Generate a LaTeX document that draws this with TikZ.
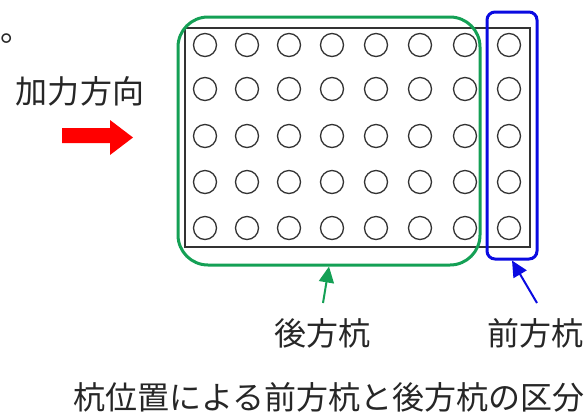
\documentclass[tikz,border=0pt]{standalone}
\usepackage{xcolor}
\usepackage{fontspec}
\setmainfont{Noto Sans CJK JP}
\usepackage{tikz}
\usetikzlibrary{calc,arrows.meta}
\definecolor{pilegreen}{RGB}{20,160,85}
\definecolor{pileblue}{RGB}{10,10,225}

\begin{document}
\begin{tikzpicture}[x=1pt,y=-1pt,
	    pile/.style={circle,draw=black!80,line width=1.3pt,minimum size=23pt,inner sep=0pt},
	    group/.style={draw,line width=3pt,inner sep=0pt},
	    label/.style={text=black!85,font=\fontsize{32}{36}\selectfont,inner sep=0pt}]
	    \useasboundingbox (0,0) rectangle (588,416);
	    \draw[line width=1.5pt,black!80] (185,28) rectangle (530,247); %pile cap
	    \foreach \x [count=\i] in {205,247,289,332,376,420,465,509}
	        \foreach \y [count=\j] in {45,89,136,182,228}
	            \node[pile] (p\i-\j) at (\x,\y) {}; % piles
	    \node[group,draw=pilegreen,rounded corners=30pt,minimum width=302pt,minimum height=248pt] (rear) at (329,141) {};
	    \node[group,draw=pileblue,rounded corners=8pt,minimum width=50pt,minimum height=247pt] (front) at (512,135.5) {};
	    \coordinate (reartail) at (323,303);
	    \coordinate (fronttail) at (537,303);
	    \draw[pilegreen,line width=2pt,-{Triangle[length=16pt,width=15pt]}] (reartail) -- (rear.south);
	    \draw[pileblue,line width=2pt,-{Triangle[length=16pt,width=15pt]}] (fronttail) -- (front.south);
	    \node[label] (rearlbl) at (322.5,333) {後方杭};
	    \node[label] (frontlbl) at (535,333) {前方杭};
	    \node[label] (load) at (80,91) {加力方向};
	    \fill[red] (62,128) -- ++(48,0) -- ++(0,-8) -- (133,137.5) -- (110,155) -- ++(0,-12) -- (62,143) -- cycle; % load arrow
	    \node[label] (caption) at (329,397) {杭位置による前方杭と後方杭の区分};
	    \node[label,anchor=base west] (stop) at (0,41) {。};
\end{tikzpicture}
\end{document}
